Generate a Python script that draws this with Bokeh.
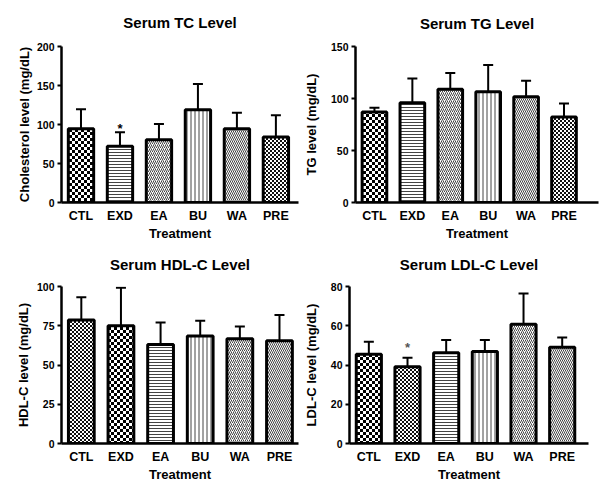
import base64
from bokeh.plotting import figure
from bokeh.layouts import column, row
from bokeh.models import (ColumnDataSource, Range1d, FixedTicker, Whisker, TeeHead,
                          ImageURLTexture)
from bokeh.embed import file_html
from bokeh.resources import INLINE
from bokeh.core.properties import value

# ---------------- data ----------------
categories = ["CTL", "EXD", "EA", "BU", "WA", "PRE"]

tc_mean = [94.5, 72, 80.5, 119, 94.5, 84]
tc_upper = [119.5, 90, 100.5, 152, 115, 112]
tc_ticks = [0, 50, 100, 150, 200]
tc_star_cat = ["EXD"]
tc_star_y = [99]

tg_mean = [87, 96, 109, 106.5, 101.7, 82.3]
tg_upper = [91.2, 119.2, 124.6, 132.2, 117, 95.3]
tg_ticks = [0, 50, 100, 150]

hdl_mean = [78.6, 75, 63, 68.4, 66.7, 65.5]
hdl_upper = [93.2, 99.2, 77.1, 78.2, 74.6, 81.8]
hdl_ticks = [0, 25, 50, 75, 100]

ldl_mean = [45.5, 39.1, 46.2, 46.9, 60.8, 49.1]
ldl_upper = [51.8, 43.7, 52.8, 52.8, 76.4, 54]
ldl_ticks = [0, 20, 40, 60, 80]
ldl_star_cat = ["EXD"]
ldl_star_y = [50.6]

# ---------------- styles ----------------
FONT = "Liberation Sans"
pattern_scale = {"checker": 6, "fine_checker": 4, "horizontal_line": 3,
                 "vertical_line": 4, "right_diagonal_line": 4, "left_diagonal_line": 4}
tc_patterns = ["checker", "horizontal_line", "right_diagonal_line", "vertical_line", "left_diagonal_line", "fine_checker"]
tg_patterns = ["checker", "horizontal_line", "right_diagonal_line", "vertical_line", "left_diagonal_line", "fine_checker"]
hdl_patterns = ["fine_checker", "checker", "horizontal_line", "vertical_line", "right_diagonal_line", "left_diagonal_line"]
ldl_patterns = ["checker", "fine_checker", "horizontal_line", "vertical_line", "right_diagonal_line", "left_diagonal_line"]


def checker_texture(tile, sq, color):
    svg = ('<svg xmlns="http://www.w3.org/2000/svg" width="%d" height="%d">'
           '<rect width="%d" height="%d" fill="white"/>'
           '<rect width="%d" height="%d" fill="%s"/>'
           '<rect x="%d" y="%d" width="%d" height="%d" fill="%s"/></svg>'
           % (tile, tile, tile, tile, sq, sq, color, sq, sq, sq, sq, color))
    return ImageURLTexture(url="data:image/svg+xml;base64," + base64.b64encode(svg.encode()).decode())


checker_tex = checker_texture(6, 3, "#000")
fine_tex = checker_texture(4, 2, "#111")


def panel(title, ylabel, mean, upper, ticks, patterns, width, height,
          left, right, top, bottom, xspan, ylab_standoff, title_standoff,
          star_cat=None, star_y=None, star_color="black"):
    xs = [categories.index(c) + 1 for c in categories]
    p = figure(width=width, height=height,
               x_range=Range1d(0.5, 0.5 + xspan), y_range=Range1d(ticks[0], ticks[-1]),
               output_backend="svg", toolbar_location=None,
               min_border_left=left, min_border_right=right,
               min_border_top=top, min_border_bottom=bottom)
    src = ColumnDataSource(dict(x=xs, mean=mean, upper=upper, pattern=patterns,
                                scale=[pattern_scale[k] for k in patterns]))
    p.vbar(x="x", top="mean", bottom=0, width=0.65, source=src,
           fill_color="white", line_color="black", line_width=3,
           hatch_pattern="pattern", hatch_scale="scale", hatch_color="#444444",
           hatch_weight=1, hatch_extra={"checker": checker_tex, "fine_checker": fine_tex})
    p.add_layout(Whisker(source=src, base="x", upper="upper", lower="mean",
                         dimension="height", line_width=2, line_color="black",
                         upper_head=TeeHead(size=10, line_width=2, line_color="black"),
                         lower_head=None))
    if star_cat:
        p.text(x=[categories.index(c) + 1 for c in star_cat], y=star_y, text=["*"] * len(star_cat),
               text_font=value(FONT), text_font_size="13px", text_font_style="bold",
               text_align="center", text_baseline="middle", y_offset=3, text_color=star_color)

    p.title.text = title
    p.title.align = "center"
    p.title.vertical_align = "top"
    p.title.text_font = FONT
    p.title.text_font_size = "15px"
    p.title.text_font_style = "bold"
    p.title.text_color = "black"
    p.title.standoff = title_standoff

    p.xgrid.visible = False
    p.ygrid.visible = False
    p.outline_line_color = None

    p.xaxis.ticker = FixedTicker(ticks=xs)
    p.xaxis.major_label_overrides = {x: c for x, c in zip(xs, categories)}
    p.xaxis.major_tick_line_color = None
    p.xaxis.major_tick_out = 0
    p.xaxis.major_tick_in = 0
    p.xaxis.minor_tick_line_color = None
    p.xaxis.major_label_standoff = 6
    p.xaxis.axis_label = "Treatment"
    p.xaxis.axis_label_standoff = 0

    p.yaxis.ticker = FixedTicker(ticks=ticks)
    p.yaxis.major_tick_in = 0
    p.yaxis.major_tick_out = 4
    p.yaxis.major_tick_line_width = 2
    p.yaxis.minor_tick_line_color = None
    p.yaxis.major_label_standoff = 3
    p.yaxis.axis_label = ylabel
    p.yaxis.axis_label_standoff = ylab_standoff

    for ax in (p.xaxis, p.yaxis):
        ax.axis_line_width = 2.5
        ax.axis_line_color = "black"
        ax.major_label_text_font = FONT
        ax.major_label_text_font_style = "bold"
        ax.major_label_text_color = "black"
        ax.axis_label_text_font = FONT
        ax.axis_label_text_font_style = "bold"
        ax.axis_label_text_font_size = "13px"
        ax.axis_label_text_color = "black"
    p.xaxis.major_label_text_font_size = "12.5px"
    p.yaxis.major_label_text_font_size = "10.5px"
    return p


p1 = panel("Serum TC Level", "Cholesterol level (mg/dL)", tc_mean, tc_upper, tc_ticks, tc_patterns,
           300, 243, 61, 2, 46, 40, 6.08, 2, 27, tc_star_cat, tc_star_y)
p2 = panel("Serum TG Level", "TG level (mg/dL)", tg_mean, tg_upper, tg_ticks, tg_patterns,
           300, 243, 48, 2, 44, 41, 6.41, 9, 25)
p3 = panel("Serum HDL-C Level", "HDL-C level (mg/dL)", hdl_mean, hdl_upper, hdl_ticks, hdl_patterns,
           300, 251, 61, 2, 43, 50, 5.98, 3, 24)
p4 = panel("Serum LDL-C Level", "LDL-C level (mg/dL)", ldl_mean, ldl_upper, ldl_ticks, ldl_patterns,
           300, 251, 47, 12, 43, 51, 6.18, 9, 24, ldl_star_cat, ldl_star_y, "#555555")

layout = column(row(p1, p2), row(p3, p4))
open("out.html", "w").write(file_html(layout, INLINE))
